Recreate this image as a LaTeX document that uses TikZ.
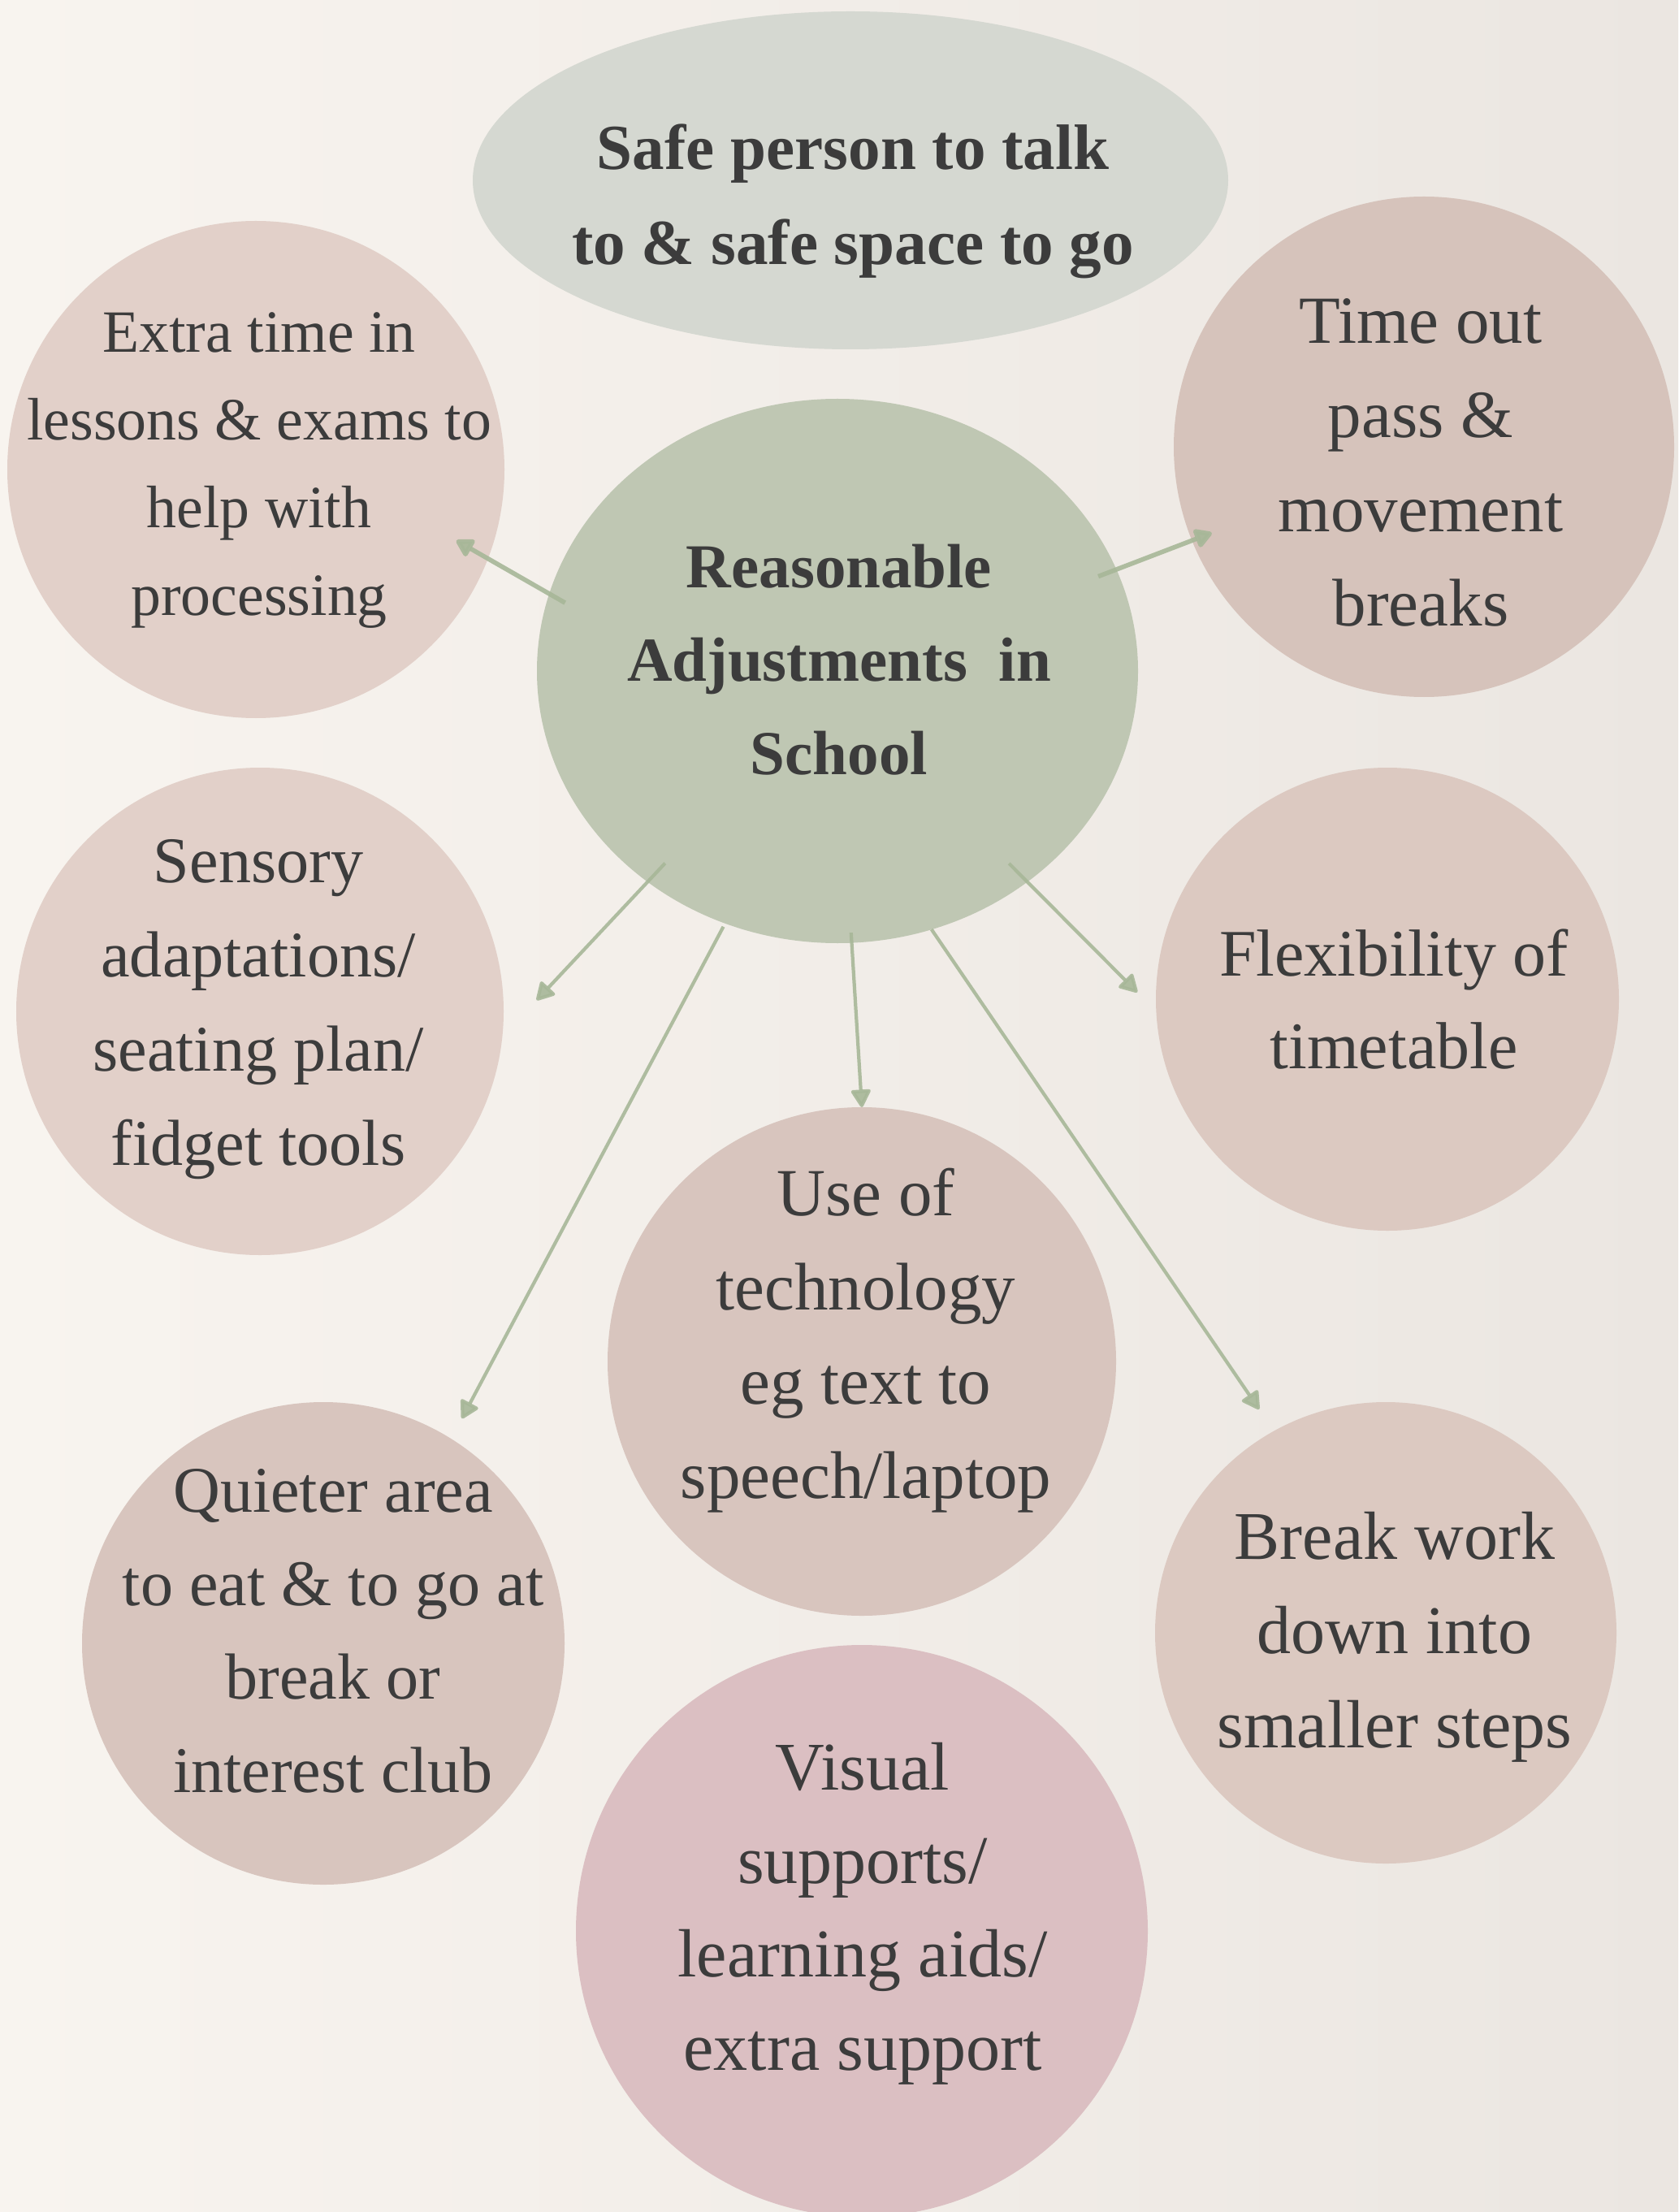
\documentclass[tikz,border=0pt]{standalone}
\usepackage{fontspec}
\setmainfont{Liberation Serif}
\usetikzlibrary{shapes.geometric,arrows.meta}

\definecolor{ink}{HTML}{3C3C3C}
\definecolor{sage}{HTML}{BFC7B3}
\definecolor{mist}{HTML}{D5D8D1}
\definecolor{blush}{HTML}{DCC9C1}
\definecolor{blushlt}{HTML}{E2D0C9}
\definecolor{blushdk}{HTML}{D6C3BB}
\definecolor{blushmd}{HTML}{D8C5BE}
\definecolor{rosy}{HTML}{DBBFC2}
\definecolor{stem}{HTML}{A7B798}
\definecolor{paperL}{HTML}{F8F4EF}
\definecolor{paperR}{HTML}{EBE6E1}

\newcommand{\fsz}[2]{\fontsize{#1}{#2}\selectfont}

\begin{document}
\begin{tikzpicture}
\tikzset{ >={Triangle[length=2.4mm,width=2.6mm,round]}, inner sep=0pt, outer sep=0pt,
  bubble/.style={circle, fill=blush},
  blob/.style={ellipse, fill=mist},
  txt/.style={align=center, text=ink},
  link/.style={->, stem, line width=1.2pt, opacity=0.9},
}

%\draw [lightgray, dashed](0,0) grid (20.66,-27.23);
\useasboundingbox (0,0) rectangle (20.66,-27.23);
\shade [left color=paperL, right color=paperR] (0,0) rectangle (20.66,-27.23);

\node [blob, minimum width=9.30cm, minimum height=4.16cm] (safe) at (10.47,-2.22) {};
\node [blob, fill=sage, minimum width=7.40cm, minimum height=6.70cm] (hub) at (10.31,-8.26) {};

\node [bubble, fill=blushlt, minimum size=6.12cm] (extra)   at (3.15,-5.78)   {};
\node [bubble, fill=blushdk, minimum size=6.16cm] (timeout) at (17.53,-5.50)  {};
\node [bubble, fill=blushlt, minimum size=6.00cm] (sensory) at (3.20,-12.45)  {};
\node [bubble,               minimum size=5.70cm] (flex)    at (17.08,-12.30) {};
\node [bubble, fill=blushmd, minimum size=6.26cm] (tech)    at (10.61,-16.76) {};
\node [bubble, fill=blushmd, minimum size=5.94cm] (quiet)   at (3.98,-20.23)  {};
\node [bubble,               minimum size=5.68cm] (breakw)  at (17.06,-20.10) {};
\node [bubble, fill=rosy,    minimum size=7.04cm] (visual)  at (10.61,-23.77) {};

\node [txt, font=\bfseries\fsz{22.5}{33.3}] (safeT) at (10.50,-2.48) {Safe person to talk\\to \& safe space to go};
\node [txt, font=\bfseries\fsz{21.9}{32.7}] (hubT)  at (10.33,-8.12) {Reasonable\\Adjustments~ in\\School};

\node [txt, font=\fsz{21.0}{30.7}] (extraT)   at (3.19,-5.79)   {Extra time in\\lessons \& exams to\\help with\\processing};
\node [txt, font=\fsz{23.6}{33.0}] (timeoutT) at (17.49,-5.69)  {Time out\\pass \&\\movement\\breaks};
\node [txt, font=\fsz{22.8}{33.0}] (sensoryT) at (3.18,-12.43)  {Sensory\\adaptations/\\seating plan/\\fidget tools};
\node [txt, font=\fsz{23.3}{32.4}] (flexT)    at (17.16,-12.30) {Flexibility of\\timetable};
\node [txt, font=\fsz{23.6}{33.0}] (techT)    at (10.66,-16.50) {Use of\\technology\\eg text to\\speech/laptop};
\node [txt, font=\fsz{22.8}{32.7}] (quietT)   at (4.10,-20.08)  {Quieter area\\to eat \& to go at\\break or\\interest club};
\node [txt, font=\fsz{23.9}{33.0}] (breakwT)  at (17.17,-20.15) {Break work\\down into\\smaller steps};
\node [txt, font=\fsz{23.9}{32.7}] (visualT)  at (10.62,-23.56) {Visual\\supports/\\learning aids/\\extra support};

\draw [link, line width=1.6pt, shorten <=-2.24mm, shorten >=-4.48mm] (hub.165.45) -- (extra.339.42);
\draw [link, line width=1.6pt, shorten <=-2.38mm, shorten >=-2.61mm] (hub.20.28)  -- (timeout.202.4);
\draw [link, shorten <=-3.15mm, shorten >=6.18mm] (hub.228.05) -- (sensory.354.3);
\draw [link, shorten <=0.46mm,  shorten >=2.82mm] (hub.246.63) -- (quiet.58.87);
\draw [link, shorten <=-1.25mm]                   (hub.273.35) -- (tech.north);
\draw [link, shorten >=3.23mm]                    (hub.290.7)  -- (breakw.119.06);
\draw [link, shorten <=-3.2mm,  shorten >=3.3mm]  (hub.312.63) -- (flex.183.82);
\end{tikzpicture}
\end{document}
